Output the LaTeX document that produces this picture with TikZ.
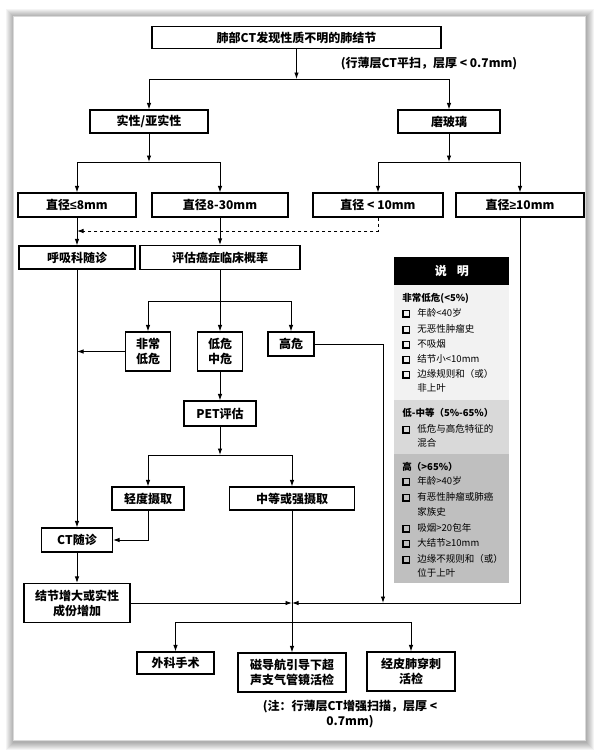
\documentclass[tikz,border=0pt]{standalone}
\usepackage{fontspec}
\usepackage{tikz}
\usetikzlibrary{arrows.meta}
\newfontfamily\cjk{Noto Sans CJK SC}
\newfontfamily\lat{Liberation Sans}
\tikzset{
	main node/.style={rectangle,draw,line width=1.1pt,fill=white,align=center,inner sep=0pt,font=\cjk\bfseries\fontsize{12}{15}\selectfont},
	note/.style={align=center,inner sep=0pt,font=\cjk\bfseries\fontsize{12}{15}\selectfont},
	legend head/.style={rectangle,fill=black,text=white,anchor=north west,minimum width=115pt,minimum height=28pt,inner sep=0pt,font=\cjk\bfseries\fontsize{12}{14}\selectfont},
	legend part/.style={rectangle,anchor=north west,minimum width=115pt,inner sep=0pt},
	legend text/.style={anchor=west,inner sep=0pt,font=\cjk\fontsize{9.5}{12}\selectfont}
}
\newcommand{\lgbox}{\makebox[15pt][l]{\setlength{\fboxsep}{0pt}\setlength{\fboxrule}{1.2pt}\fbox{\rule{0pt}{5pt}\hspace{5pt}}}}
\newcommand{\lgskip}{\hspace{15pt}}
\newcommand{\lesym}{{\lat ≤}}
\newcommand{\gesym}{{\lat ≥}}

\begin{document}
\begin{tikzpicture}[->,>={Latex[length=6.5pt,width=4.5pt]},line width=0.9pt,x=1pt,y=-1pt]
	\useasboundingbox (0,0) rectangle (598,753);
	% panel and its shadow
	\fill[-,white] (0,0) rectangle (598,753);
	\foreach \d in {1,...,8}
		\fill[-,black,opacity=0.045] (14-\d,17-\d) rectangle (586+\d,742+\d);
	\filldraw[-,fill=white,draw=black!15,line width=0.5pt] (13,16) rectangle (585,740);

	% boxes
	\node [main node,minimum width=289pt,minimum height=22pt] (1) at (296.5,37.5) {肺部CT发现性质不明的肺结节};
	\node [note] (n1) at (429,64) {(行薄层CT平扫，层厚 < 0.7mm)};
	\node [main node,minimum width=118pt,minimum height=23pt] (2) at (149,121.5) {实性/亚实性};
	\node [main node,minimum width=102pt,minimum height=23pt] (3) at (449,121.5) {磨玻璃};
	\node [main node,minimum width=118pt,minimum height=24pt] (4) at (77,205) {直径\lesym8mm};
	\node [main node,minimum width=136pt,minimum height=24pt] (5) at (220,205) {直径8-30mm};
	\node [main node,minimum width=130pt,minimum height=24pt] (6) at (378,205) {直径 < 10mm};
	\node [main node,minimum width=128pt,minimum height=24pt] (7) at (520,205) {直径\gesym10mm};
	\node [main node,minimum width=116pt,minimum height=23pt] (8) at (77,257.5) {呼吸科随诊};
	\node [main node,minimum width=160pt,minimum height=24pt] (9) at (220,257.5) {评估癌症临床概率};
	\node [main node,minimum width=45pt,minimum height=39pt] (10) at (148,351.5) {非常\\低危};
	\node [main node,minimum width=45pt,minimum height=39pt] (11) at (220,351.5) {低危\\中危};
	\node [main node,minimum width=46pt,minimum height=24pt] (12) at (291,344) {高危};
	\node [main node,minimum width=72pt,minimum height=25pt] (13) at (220,413.5) {PET评估};
	\node [main node,minimum width=72pt,minimum height=23pt] (14) at (148,498.5) {轻度摄取};
	\node [main node,minimum width=125pt,minimum height=23pt] (15) at (292,498.5) {中等或强摄取};
	\node [main node,minimum width=71pt,minimum height=24pt] (16) at (77,540) {CT随诊};
	\node [main node,minimum width=106pt,minimum height=39pt] (17) at (77,603) {结节增大或实性\\成份增加};
	\node [main node,minimum width=77pt,minimum height=22pt] (18) at (175.5,663) {外科手术};
	\node [main node,minimum width=108pt,minimum height=39pt] (19) at (292,672.5) {磁导航引导下超\\声支气管镜活检};
	\node [main node,minimum width=88pt,minimum height=39pt] (20) at (411,671.5) {经皮肺穿刺\\活检};
	\node [note] (n2) at (350,714) {(注：行薄层CT增强扫描，层厚 <\\0.7mm)};

	% junctions
	\coordinate (j1) at (296.5,79);
	\coordinate (j2) at (149,162);
	\coordinate (j3) at (449,162);
	\coordinate (d1) at (77,231);
	\coordinate (j4) at (220,301);
	\coordinate (c1) at (383,603);
	\coordinate (j5) at (220,455);
	\coordinate (j6) at (292,603);
	\coordinate (j7) at (292,622);

	% connectors
	\draw (1) -- (j1);
	\draw (j1) -| (2);
	\draw (j1) -| (3);
	\draw (2) -- (j2);
	\draw (j2) -| (4);
	\draw (j2) -| (5);
	\draw (3) -- (j3);
	\draw (j3) -| (6);
	\draw (j3) -| (7);
	\draw (4) -- (8);
	\draw (5) -- (9);
	\draw[dashed] (6) |- (d1);
	\draw (9) -- (11);
	\draw (j4) -| (10);
	\draw (j4) -| (12);
	\draw (10.west) -- (10.west -| 8);
	\draw (12.east) -| (c1);
	\draw (11) -- (13);
	\draw (13) -- (j5);
	\draw (j5) -| (14);
	\draw (j5) -| (15);
	\draw (8) -- (16);
	\draw (14) |- (16);
	\draw (16) -- (17);
	\draw (17.east) -- (j6);
	\draw (7) |- (j6);
	\draw (15) -- (19);
	\draw (j7) -| (18);
	\draw (j7) -| (20);

	% legend
	\node [legend head] (l0) at (394,257) {说\hspace{10pt}明};
	\node [legend part,fill=black!5,minimum height=115pt] (l1) at (394,285) {};
	\node [legend part,fill=black!15,minimum height=54pt] (l2) at (394,400) {};
	\node [legend part,fill=black!25,minimum height=129pt] (l3) at (394,454) {};
	\foreach \yy/\tx [count=\i] in {298/\bfseries 非常低危(<5\%),313/\lgbox 年龄<40岁,329/\lgbox 无恶性肿瘤史,
		344/\lgbox 不吸烟,359/\lgbox 结节小<10mm,374/\lgbox 边缘规则和（或）,388/\lgskip 非上叶,
		413/\bfseries 低-中等（5\%-65\%）,429/\lgbox 低危与高危特征的,443/\lgskip 混合,
		467/\bfseries 高（>65\%）,481/\lgbox 年龄>40岁,497/\lgbox 有恶性肿瘤或肺癌,512/\lgskip 家族史,
		528/\lgbox 吸烟>20包年,543/\lgbox 大结节\gesym10mm,559/\lgbox 边缘不规则和（或）,573/\lgskip 位于上叶}
		\node [legend text] (t\i) at (402,\yy) {\tx};
\end{tikzpicture}
\end{document}
